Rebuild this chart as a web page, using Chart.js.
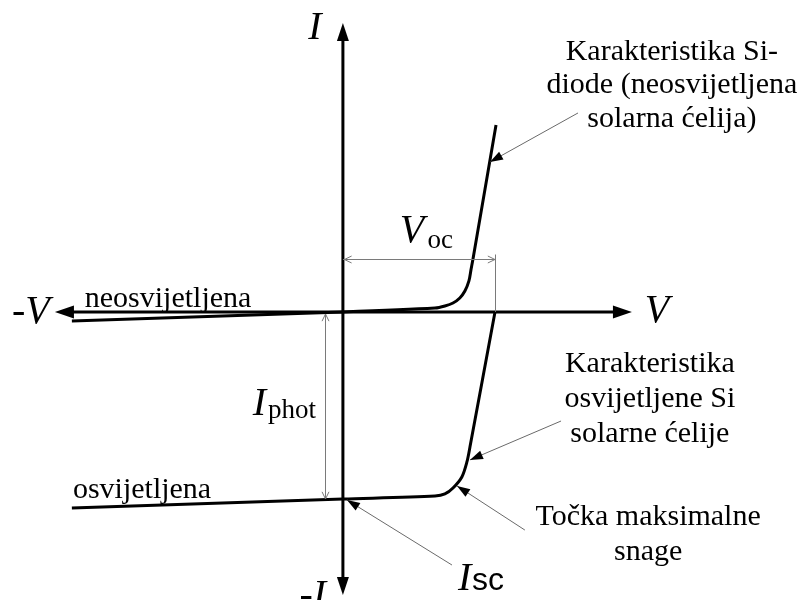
<!DOCTYPE html>
<html>
<head>
<meta charset="utf-8">
<title>I-V karakteristika solarne ćelije</title>
<script src="https://cdn.jsdelivr.net/npm/chart.js@4.4.1/dist/chart.umd.min.js"></script>
<style>
  html, body { margin: 0; padding: 0; background: #fff; }
  #wrap { width: 804px; height: 600px; }
</style>
</head>
<body>
<div id="wrap"><canvas id="ivChart" width="804" height="600"></canvas></div>
<script>
// visible range of the drawing (V in volts, I normalised to I_phot = 1)
const rangeV = [-1.355, 1.822];
const rangeI = [-1.540, 1.668];

// axis extents (arrow tips)
const axisV = [-1.138, 1.142];
const axisI = [-1.513, 1.545];

// dark (neosvijetljena) characteristic
const darkV = [-1.071, 0, 0.364, 0.403, 0.435, 0.462, 0.482, 0.498, 0.506, 0.514, 0.605];
const darkI = [-0.048, 0, 0.021, 0.032, 0.048, 0.075, 0.112, 0.166, 0.225, 0.283, 1.0];

// illuminated (osvijetljena) characteristic
const lightV = [-1.071, 0, 0.364, 0.403, 0.435, 0.470, 0.490, 0.502, 0.601];
const lightI = [-1.048, -1.0, -0.984, -0.973, -0.941, -0.882, -0.802, -0.722, 0];

// dimension lines
const vocValue = 0.601;   // V_oc
const vocLevel = 0.283;   // height of the V_oc dimension line
const iphotValue = -1.0;  // I_sc = -I_phot
const iphotAt = -0.071;   // V position of the I_phot dimension line

// leader arrows: [fromV, fromI, toV, toI]
const leaders = [
    [0.929, 1.064, 0.581, 0.802],
    [0.862, -0.583, 0.502, -0.791],
    [0.719, -1.166, 0.451, -0.930],
    [0.431, -1.353, 0.016, -1.005]
];

// text blocks: lines, centre V, baselines I
const diodeText = ['Karakteristika Si-', 'diode (neosvijetljena', 'solarna ćelija)'];
const diodeBase = [1.348, 1.171, 0.989];
const cellText = ['Karakteristika', 'osvijetljene Si', 'solarne ćelije'];
const cellBase = [-0.321, -0.508, -0.695];
const mppText = ['Točka maksimalne', 'snage'];
const mppBase = [-1.139, -1.326];

function toPoints(xs, ys) {
    return xs.map((x, i) => ({ x: x, y: ys[i] }));
}

const serif = '"Liberation Serif", "Times New Roman", serif';

// draws axes, dimension lines, leaders and labels
const drawingPlugin = {
    id: 'ivDrawing',
    beforeDatasetsDraw(chart) {
        const ctx = chart.ctx;
        const sx = chart.scales.x, sy = chart.scales.y;
        const X = v => sx.getPixelForValue(v);
        const Y = v => sy.getPixelForValue(v);

        ctx.save();
        ctx.strokeStyle = '#000';
        ctx.fillStyle = '#000';
        ctx.lineWidth = 3;
        // horizontal axis
        ctx.beginPath();
        ctx.moveTo(X(axisV[0]) + 14, Y(0));
        ctx.lineTo(X(axisV[1]) - 14, Y(0));
        ctx.stroke();
        // vertical axis
        ctx.beginPath();
        ctx.moveTo(X(0), Y(axisI[1]) + 14);
        ctx.lineTo(X(0), Y(axisI[0]) - 14);
        ctx.stroke();
        filledArrow(ctx, X(axisV[0]) + 20, Y(0), X(axisV[0]), Y(0), 19, 6.5);
        filledArrow(ctx, X(axisV[1]) - 20, Y(0), X(axisV[1]), Y(0), 19, 6.5);
        filledArrow(ctx, X(0), Y(axisI[1]) + 20, X(0), Y(axisI[1]), 18, 6);
        filledArrow(ctx, X(0), Y(axisI[0]) - 20, X(0), Y(axisI[0]), 18, 6);
        ctx.restore();
    },
    afterDatasetsDraw(chart) {
        const ctx = chart.ctx;
        const sx = chart.scales.x, sy = chart.scales.y;
        const X = v => sx.getPixelForValue(v);
        const Y = v => sy.getPixelForValue(v);

        ctx.save();
        // dimension lines
        ctx.strokeStyle = '#7a7a7a';
        ctx.lineWidth = 1;
        const yv = Math.round(Y(vocLevel)) + 0.5;
        ctx.beginPath();
        ctx.moveTo(X(0), yv);
        ctx.lineTo(X(vocValue), yv);
        ctx.moveTo(Math.round(X(vocValue)) + 0.5, yv - 5);
        ctx.lineTo(Math.round(X(vocValue)) + 0.5, Y(0));
        ctx.stroke();
        openArrow(ctx, X(vocValue) - 10, yv, X(vocValue), yv);
        openArrow(ctx, X(0) + 10, yv, X(0) + 1.5, yv);

        const xp = Math.round(X(iphotAt)) + 0.5;
        ctx.beginPath();
        ctx.moveTo(xp, Y(0) + 2);
        ctx.lineTo(xp, Y(iphotValue));
        ctx.stroke();
        openArrow(ctx, xp, Y(0) + 12, xp, Y(0) + 2);
        openArrow(ctx, xp, Y(iphotValue) - 10, xp, Y(iphotValue));

        // leader arrows
        leaders.forEach(l => {
            ctx.strokeStyle = '#6a6a6a';
            ctx.lineWidth = 1;
            ctx.beginPath();
            ctx.moveTo(X(l[0]), Y(l[1]));
            ctx.lineTo(X(l[2]), Y(l[3]));
            ctx.stroke();
            ctx.fillStyle = '#000';
            filledArrow(ctx, X(l[0]), Y(l[1]), X(l[2]), Y(l[3]), 13, 4.5);
        });

        // axis labels
        ctx.fillStyle = '#000';
        ctx.textBaseline = 'alphabetic';
        ctx.font = 'italic 40px ' + serif;
        ctx.textAlign = 'center';
        ctx.fillText('I', X(-0.111), Y(1.460));
        ctx.fillText('V', X(1.241), Y(-0.053));
        ctx.fillText('-V', X(-1.233), Y(-0.059));
        ctx.fillText('-I', X(-0.119), Y(-1.580));

        ctx.textAlign = 'left';
        ctx.font = '30px ' + serif;
        ctx.fillText('neosvijetljena', X(-1.020), Y(0.027));
        ctx.fillText('osvijetljena', X(-1.067), Y(-0.995));

        // V_oc
        ctx.font = 'italic 40px ' + serif;
        ctx.fillText('V', X(0.225), Y(0.374));
        ctx.font = '27px ' + serif;
        ctx.fillText('oc', X(0.334), Y(0.342));
        // I_phot
        ctx.font = 'italic 40px ' + serif;
        ctx.fillText('I', X(-0.356), Y(-0.551));
        ctx.font = '27px ' + serif;
        ctx.fillText('phot', X(-0.296), Y(-0.567));
        // I sc
        ctx.font = 'italic 40px ' + serif;
        ctx.fillText('I', X(0.455), Y(-1.487));
        ctx.font = '32px "Liberation Sans", Arial, sans-serif';
        ctx.fillText('sc', X(0.510), Y(-1.487));

        // text blocks
        ctx.textAlign = 'center';
        ctx.font = '30px ' + serif;
        diodeText.forEach((t, i) => ctx.fillText(t, X(1.300), Y(diodeBase[i])));
        cellText.forEach((t, i) => ctx.fillText(t, X(1.213), Y(cellBase[i])));
        mppText.forEach((t, i) => ctx.fillText(t, X(1.206), Y(mppBase[i])));
        ctx.restore();
    }
};

function filledArrow(ctx, x0, y0, x1, y1, len, half) {
    const a = Math.atan2(y1 - y0, x1 - x0);
    ctx.beginPath();
    ctx.moveTo(x1, y1);
    ctx.lineTo(x1 - len * Math.cos(a) + half * Math.sin(a), y1 - len * Math.sin(a) - half * Math.cos(a));
    ctx.lineTo(x1 - len * Math.cos(a) - half * Math.sin(a), y1 - len * Math.sin(a) + half * Math.cos(a));
    ctx.closePath();
    ctx.fill();
}

function openArrow(ctx, x0, y0, x1, y1) {
    const a = Math.atan2(y1 - y0, x1 - x0);
    const len = 8, spread = 0.45;
    ctx.beginPath();
    ctx.moveTo(x1 - len * Math.cos(a - spread), y1 - len * Math.sin(a - spread));
    ctx.lineTo(x1, y1);
    ctx.lineTo(x1 - len * Math.cos(a + spread), y1 - len * Math.sin(a + spread));
    ctx.stroke();
}

const ctx = document.getElementById('ivChart').getContext('2d');
const chart = new Chart(ctx, {
    type: 'scatter',
    data: {
        datasets: [
            {
                label: 'neosvijetljena',
                data: toPoints(darkV, darkI),
                showLine: true,
                borderColor: '#000',
                borderWidth: 3,
                pointRadius: 0,
                tension: 0.3,
                borderJoinStyle: 'round'
            },
            {
                label: 'osvijetljena',
                data: toPoints(lightV, lightI),
                showLine: true,
                borderColor: '#000',
                borderWidth: 3,
                pointRadius: 0,
                tension: 0.3,
                borderJoinStyle: 'round'
            }
        ]
    },
    options: {
        responsive: false,
        animation: false,
        layout: { padding: 0 },
        plugins: {
            legend: { display: false },
            tooltip: { enabled: false }
        },
        scales: {
            x: { type: 'linear', min: rangeV[0], max: rangeV[1], display: false },
            y: { type: 'linear', min: rangeI[0], max: rangeI[1], display: false }
        }
    },
    plugins: [drawingPlugin]
});
</script>
</body>
</html>
